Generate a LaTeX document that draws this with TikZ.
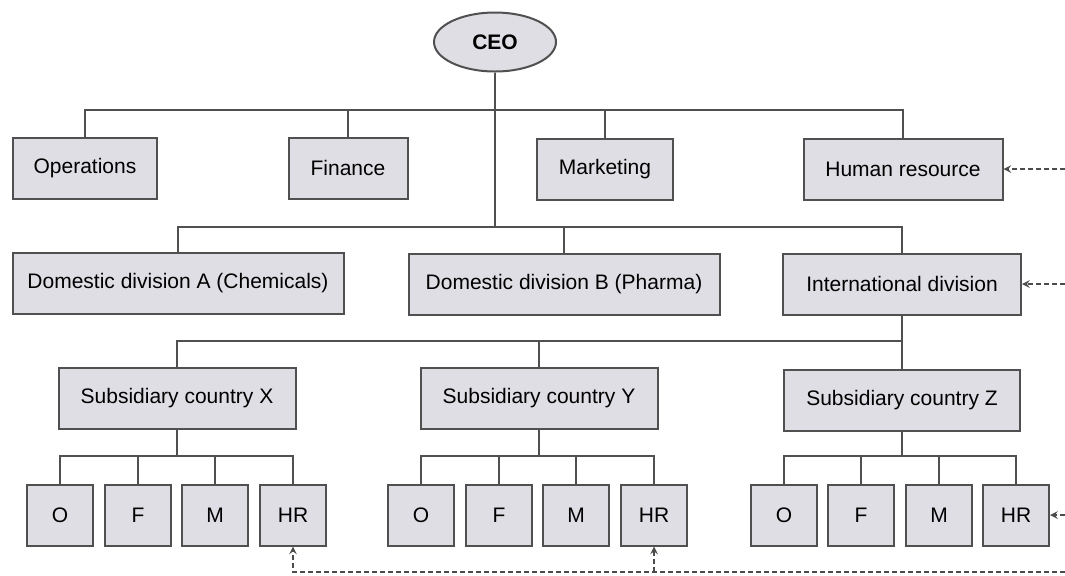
\documentclass[tikz,border=0pt]{standalone}
\usepackage{fontspec}
\setmainfont{Liberation Sans}
\usetikzlibrary{shapes.geometric}
\definecolor{boxfill}{RGB}{222,222,228}
\definecolor{boxline}{RGB}{80,80,80}
\tikzset{
	box/.style={draw=boxline, line width=1pt, fill=boxfill, minimum height=30.5pt, inner sep=0pt, text=black, font=\fontsize{10.5}{12}\selectfont},
	smallbox/.style={box, minimum width=33pt},
	link/.style={boxline, line width=.7pt},
	feedback/.style={->, >=stealth, black!70, line width=.7pt, dash pattern=on 2.5pt off 1.5pt}
}
\begin{document}
\begin{tikzpicture}[x=.5pt, y=-.5pt]
	\useasboundingbox (0,0) rectangle (1065,575);
	% top of the chart
	\node[box, ellipse, minimum width=61pt, minimum height=29.5pt, font=\fontsize{10.5}{12}\selectfont\bfseries] (ceo) at (495,42) {CEO};
	\node[box, minimum width=72pt] (ops) at (85,168) {Operations};
	\node[box, minimum width=59.5pt] (fin) at (348,168) {Finance};
	\node[box, minimum width=68pt] (mkt) at (605,169) {Marketing};
	\node[box, minimum width=99.5pt] (hr) at (903,169) {Human resource};
	\node[box, minimum width=165.5pt] (doma) at (178,283) {Domestic division A (Chemicals)};
	\node[box, minimum width=155.5pt] (domb) at (564,284) {Domestic division B (Pharma)};
	\node[box, minimum width=119pt] (intl) at (902,284) {International division};
	\node[box, minimum width=118.5pt] (subx) at (177,398) {Subsidiary country X};
	\node[box, minimum width=118.5pt] (suby) at (539,398) {Subsidiary country Y};
	\node[box, minimum width=118pt] (subz) at (902,400) {Subsidiary country Z};
	\foreach \s/\xo/\xf/\xm/\xh in {x/60/138/215/293, y/421/499/576/654, z/784/861/939/1016} {
		\node[smallbox] (o\s) at (\xo,515) {O};
		\node[smallbox] (f\s) at (\xf,515) {F};
		\node[smallbox] (m\s) at (\xm,515) {M};
		\node[smallbox] (hr\s) at (\xh,515) {HR};
	}
	% bus lines
	\coordinate (bus1) at (0,110);
	\coordinate (bus2) at (0,227);
	\coordinate (bus3) at (0,341);
	\coordinate (bus4) at (0,456);
	\draw[link] (ceo) -- (ceo |- bus2);
	\draw[link] (ops.north) |- (bus1 -| hr.north) -- (hr.north);
	\foreach \n in {fin,mkt}
	\draw[link] (\n.north) -- (\n.north |- bus1);
	\draw[link] (doma.north) |- (bus2 -| intl.north) -- (intl.north);
	\draw[link] (domb.north) -- (domb.north |- bus2);
	\draw[link] (intl.south) -- (subz.north);
	\draw[link] (subx.north) |- (bus3 -| subz.north);
	\draw[link] (suby.north) -- (suby.north |- bus3);
	\foreach \s in {x,y,z} {
		\draw[link] (sub\s.south) -- (sub\s.south |- bus4);
		\draw[link] (o\s.north) |- (bus4 -| hr\s.north) -- (hr\s.north);
		\draw[link] (f\s.north) -- (f\s.north |- bus4);
		\draw[link] (m\s.north) -- (m\s.north |- bus4);
	}
	% dashed feedback from the right
	\coordinate (fbend) at (1065,572);
	\draw[feedback] (hr.east -| fbend) -- (hr.east);
	\draw[feedback] (intl.east -| fbend) -- (intl.east);
	\draw[feedback] (hrz.east -| fbend) -- (hrz.east);
	\draw[feedback] (fbend) -| (hrx.south);
	\draw[feedback] (hry.south |- fbend) -- (hry.south);
\end{tikzpicture}
\end{document}
